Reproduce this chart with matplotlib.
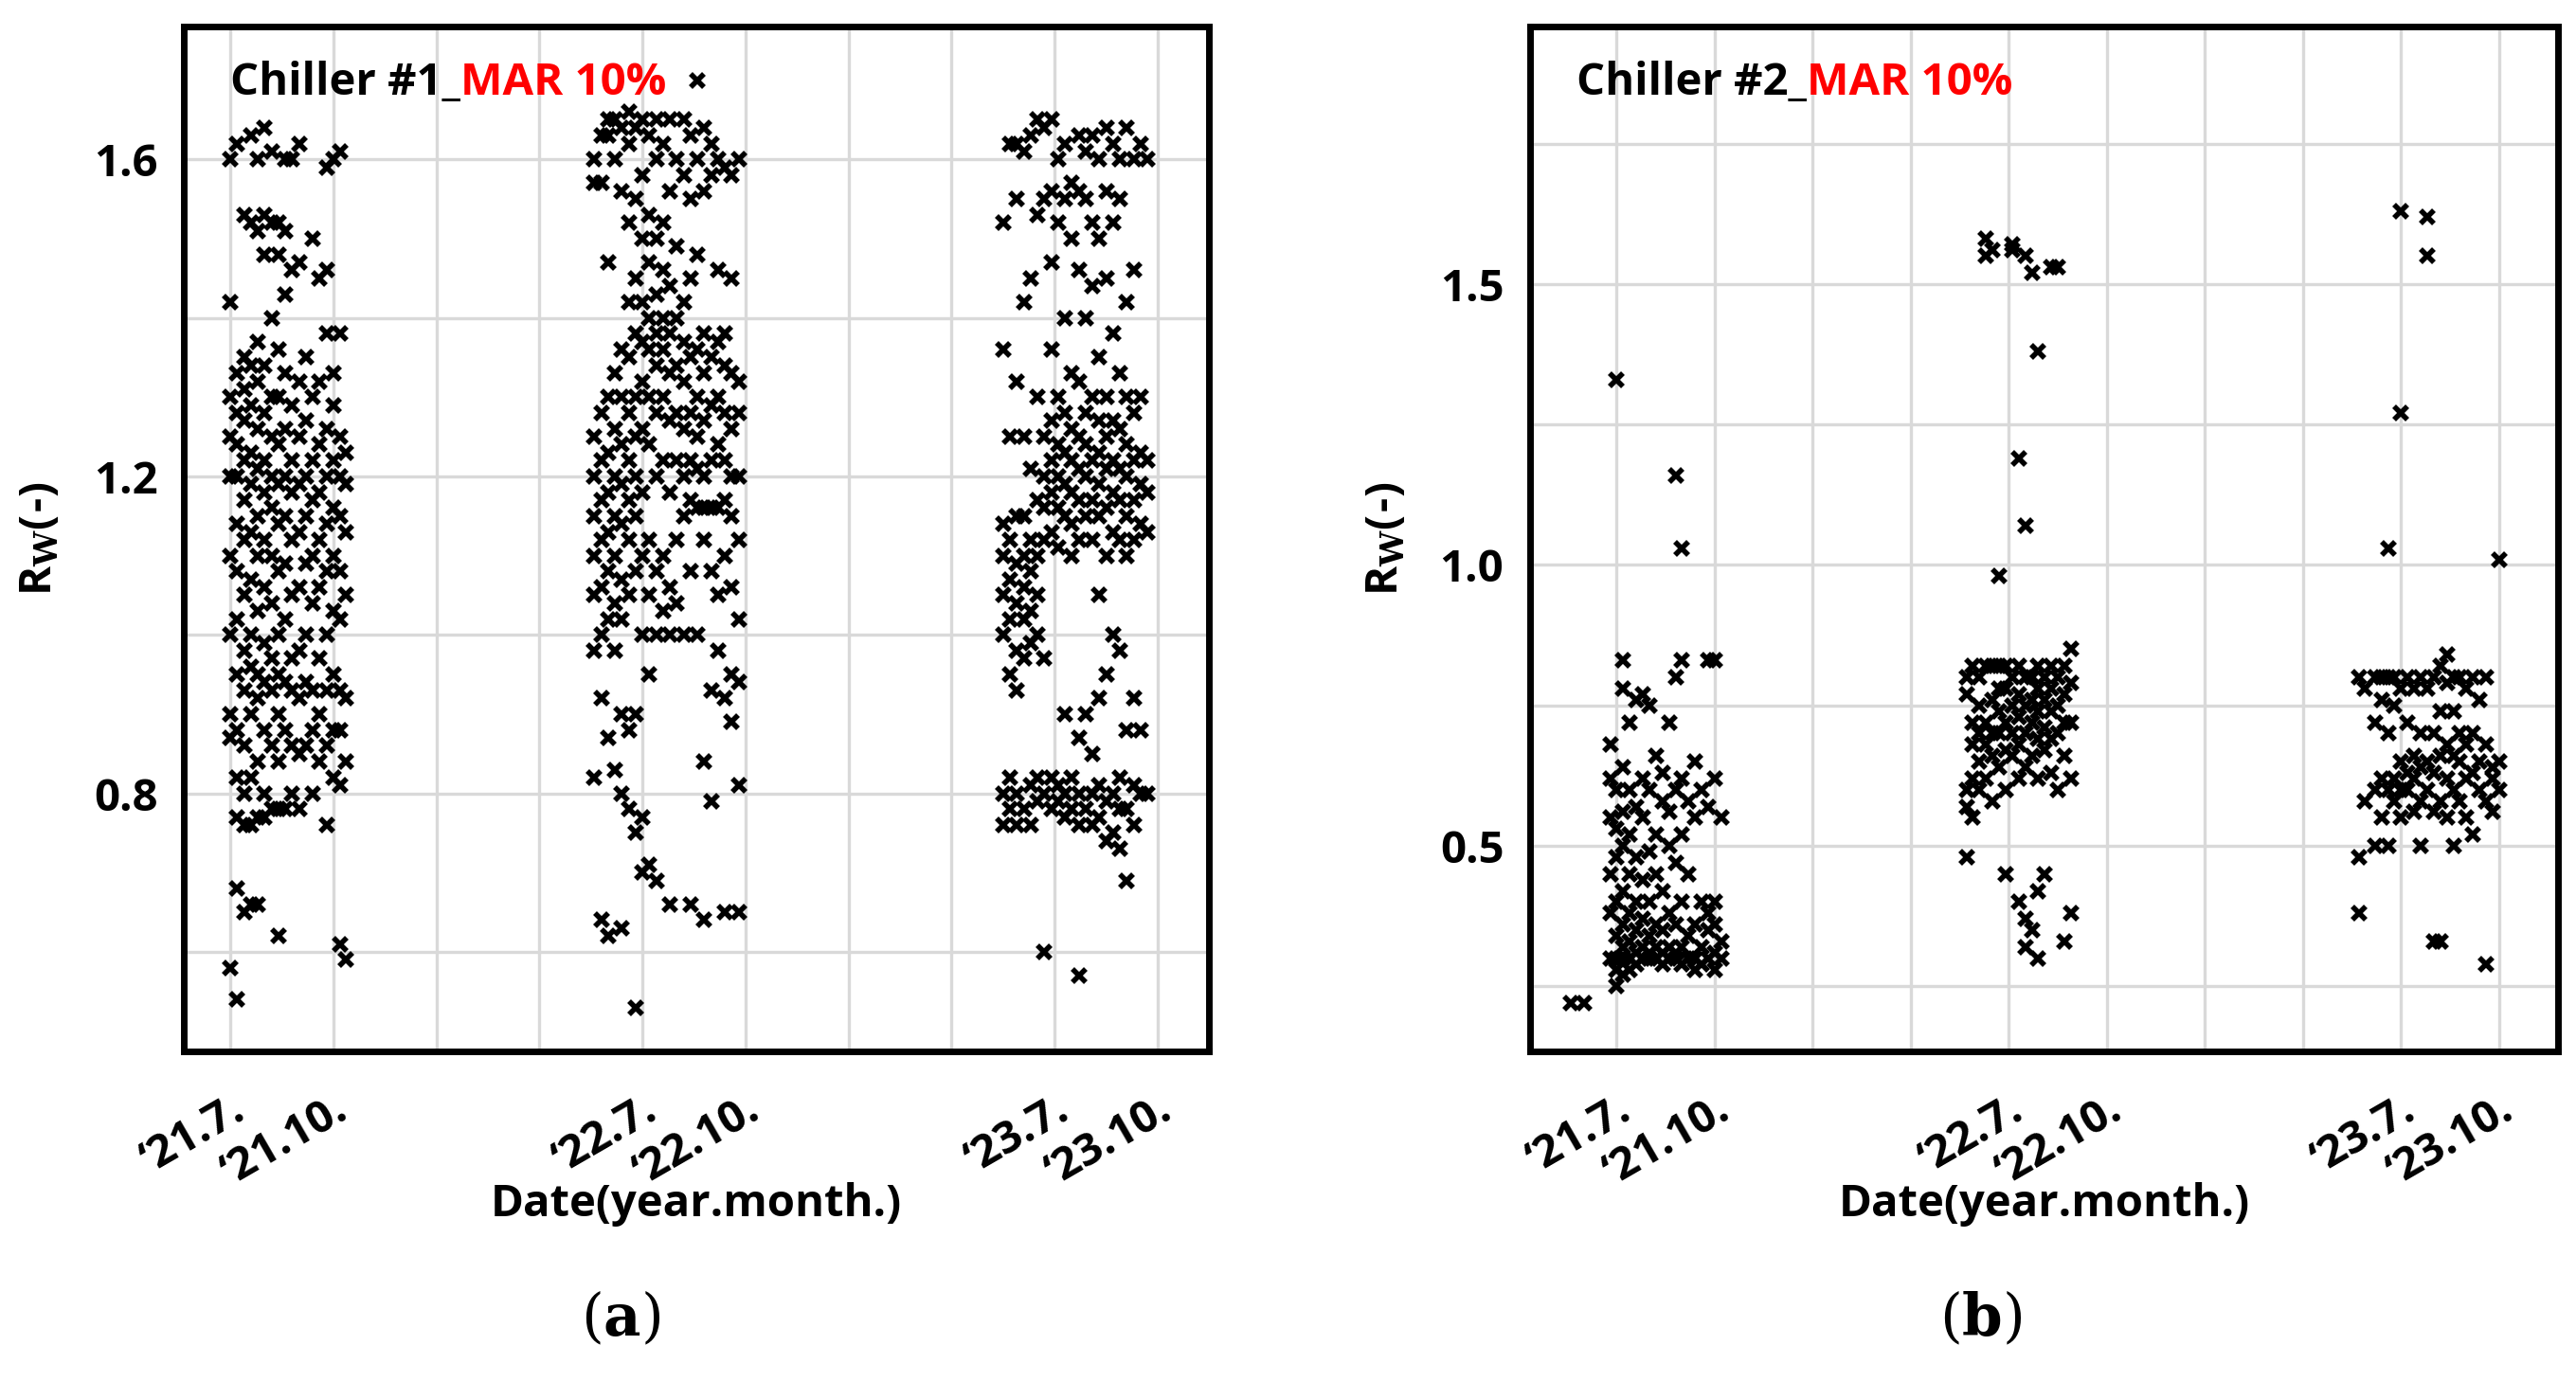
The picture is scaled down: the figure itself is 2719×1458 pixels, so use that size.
import matplotlib.pyplot as plt
import matplotlib as mpl

mpl.rcParams['font.family'] = 'Open Sans'
mpl.rcParams['font.weight'] = 'bold'

# x = months since Jan 2021 (6 = '21.7.)
tick_pos = [6, 9, 18, 21, 30, 33]
tick_labels = ['\u201821.7.', '\u201821.10.', '\u201822.7.', '\u201822.10.', '\u201823.7.', '\u201823.10.']

# Chiller #1 points, column x -> y values
a_2021 = {
    6.0: [0.58, 0.87, 0.9, 1.0, 1.1, 1.2, 1.25, 1.3, 1.42, 1.6],
    6.2: [0.54, 0.68, 0.77, 0.82, 0.88, 0.95, 1.02, 1.08, 1.14, 1.2, 1.24, 1.28, 1.33, 1.62],
    6.4: [0.65, 0.76, 0.8, 0.86, 0.93, 0.98, 1.05, 1.12, 1.17, 1.22, 1.27, 1.31, 1.35, 1.53],
    6.6: [0.66, 0.76, 0.82, 0.9, 0.96, 1.0, 1.07, 1.13, 1.19, 1.23, 1.29, 1.34, 1.52, 1.63],
    6.8: [0.66, 0.77, 0.84, 0.92, 0.95, 1.03, 1.1, 1.15, 1.21, 1.26, 1.32, 1.37, 1.51, 1.6],
    7.0: [0.77, 0.8, 0.88, 0.94, 0.99, 1.06, 1.12, 1.18, 1.22, 1.28, 1.34, 1.48, 1.53, 1.64],
    7.2: [0.78, 0.86, 0.93, 0.97, 1.04, 1.1, 1.16, 1.2, 1.25, 1.3, 1.4, 1.52, 1.61],
    7.4: [0.62, 0.78, 0.84, 0.9, 0.95, 1.0, 1.08, 1.14, 1.19, 1.24, 1.3, 1.36, 1.48, 1.52],
    7.6: [0.78, 0.88, 0.94, 1.02, 1.09, 1.15, 1.2, 1.26, 1.33, 1.43, 1.51, 1.6],
    7.8: [0.8, 0.86, 0.93, 0.97, 1.05, 1.12, 1.18, 1.22, 1.29, 1.46, 1.6],
    8.0: [0.78, 0.85, 0.92, 0.98, 1.06, 1.13, 1.19, 1.25, 1.32, 1.47, 1.62],
    8.2: [0.86, 0.94, 1.0, 1.09, 1.15, 1.2, 1.27, 1.35],
    8.4: [0.8, 0.88, 0.93, 1.04, 1.1, 1.17, 1.22, 1.3, 1.5],
    8.6: [0.84, 0.9, 0.97, 1.06, 1.12, 1.18, 1.24, 1.32, 1.45],
    8.8: [0.76, 0.86, 0.93, 1.0, 1.08, 1.14, 1.2, 1.26, 1.38, 1.46, 1.59],
    9.0: [0.82, 0.88, 0.95, 1.03, 1.1, 1.16, 1.22, 1.29, 1.33, 1.6],
    9.2: [0.61, 0.81, 0.88, 0.93, 1.02, 1.08, 1.15, 1.2, 1.25, 1.38, 1.61],
    9.35: [0.59, 0.84, 0.92, 1.05, 1.13, 1.19, 1.23],
}
a_2022 = {
    16.6: [0.82, 0.98, 1.05, 1.1, 1.15, 1.2, 1.25, 1.57, 1.6],
    16.8: [0.64, 0.92, 1.0, 1.06, 1.12, 1.17, 1.22, 1.28, 1.57, 1.63],
    17.0: [0.62, 0.87, 1.02, 1.08, 1.13, 1.18, 1.23, 1.3, 1.47, 1.63, 1.65],
    17.2: [0.83, 0.98, 1.04, 1.1, 1.15, 1.2, 1.26, 1.33, 1.6, 1.65],
    17.4: [0.63, 0.8, 0.9, 1.02, 1.07, 1.14, 1.19, 1.24, 1.3, 1.36, 1.56, 1.64],
    17.6: [0.78, 0.88, 1.05, 1.12, 1.17, 1.22, 1.28, 1.35, 1.42, 1.52, 1.62, 1.66],
    17.8: [0.53, 0.75, 0.9, 1.08, 1.15, 1.2, 1.25, 1.3, 1.38, 1.45, 1.55, 1.64],
    18.0: [0.7, 0.77, 1.0, 1.1, 1.18, 1.26, 1.32, 1.37, 1.42, 1.5, 1.58, 1.65],
    18.2: [0.71, 0.95, 1.05, 1.12, 1.24, 1.3, 1.36, 1.4, 1.47, 1.53, 1.63],
    18.4: [0.69, 1.0, 1.08, 1.2, 1.28, 1.34, 1.38, 1.43, 1.5, 1.6, 1.65],
    18.6: [1.03, 1.1, 1.22, 1.3, 1.36, 1.4, 1.46, 1.52, 1.62],
    18.8: [0.66, 1.0, 1.06, 1.18, 1.27, 1.33, 1.38, 1.44, 1.56, 1.65],
    19.0: [1.04, 1.12, 1.22, 1.28, 1.34, 1.4, 1.49, 1.6],
    19.2: [1.0, 1.15, 1.2, 1.26, 1.32, 1.37, 1.42, 1.58, 1.65],
    19.4: [0.66, 1.08, 1.17, 1.22, 1.28, 1.35, 1.45, 1.55, 1.63],
    19.6: [1.0, 1.16, 1.21, 1.25, 1.3, 1.36, 1.48, 1.6, 1.7],
    19.8: [0.64, 0.84, 1.12, 1.16, 1.2, 1.27, 1.33, 1.38, 1.56, 1.64],
    20.0: [0.79, 0.93, 1.08, 1.16, 1.22, 1.29, 1.35, 1.58, 1.62],
    20.2: [0.98, 1.05, 1.16, 1.24, 1.3, 1.37, 1.46, 1.6],
    20.4: [0.65, 0.92, 1.1, 1.17, 1.22, 1.28, 1.34, 1.38, 1.59],
    20.6: [0.89, 0.95, 1.06, 1.15, 1.2, 1.26, 1.33, 1.45, 1.58],
    20.8: [0.65, 0.81, 0.94, 1.02, 1.12, 1.2, 1.28, 1.32, 1.6],
}
a_2023 = {
    28.5: [0.76, 0.8, 1.0, 1.05, 1.1, 1.14, 1.36, 1.52],
    28.7: [0.78, 0.82, 0.95, 1.02, 1.07, 1.12, 1.25, 1.62],
    28.9: [0.76, 0.8, 0.93, 0.98, 1.04, 1.09, 1.15, 1.32, 1.55, 1.62],
    29.1: [0.78, 0.97, 1.02, 1.06, 1.1, 1.15, 1.25, 1.42, 1.61],
    29.3: [0.76, 0.81, 0.99, 1.03, 1.08, 1.12, 1.21, 1.45, 1.63],
    29.5: [0.79, 0.82, 1.0, 1.05, 1.1, 1.17, 1.3, 1.53, 1.65],
    29.7: [0.6, 0.8, 0.97, 1.12, 1.16, 1.2, 1.25, 1.55, 1.64],
    29.9: [0.78, 0.82, 1.13, 1.18, 1.22, 1.27, 1.36, 1.47, 1.56, 1.65],
    30.1: [0.79, 0.81, 1.11, 1.16, 1.2, 1.24, 1.3, 1.52, 1.6],
    30.3: [0.77, 0.8, 0.9, 1.15, 1.19, 1.23, 1.28, 1.4, 1.55, 1.62],
    30.5: [0.78, 0.82, 1.1, 1.14, 1.18, 1.22, 1.26, 1.33, 1.5, 1.57],
    30.7: [0.57, 0.76, 0.8, 0.87, 1.12, 1.17, 1.21, 1.25, 1.32, 1.46, 1.56, 1.63],
    30.9: [0.78, 0.9, 1.15, 1.2, 1.24, 1.28, 1.4, 1.55, 1.61],
    31.1: [0.76, 0.8, 0.85, 1.12, 1.17, 1.22, 1.3, 1.44, 1.52, 1.63],
    31.3: [0.77, 0.81, 0.92, 1.05, 1.15, 1.19, 1.23, 1.27, 1.35, 1.5, 1.6],
    31.5: [0.74, 0.79, 0.95, 1.1, 1.16, 1.21, 1.25, 1.3, 1.45, 1.56, 1.64],
    31.7: [0.75, 0.8, 1.0, 1.13, 1.18, 1.22, 1.27, 1.38, 1.52, 1.62],
    31.9: [0.73, 0.78, 0.82, 0.98, 1.12, 1.17, 1.21, 1.26, 1.33, 1.55, 1.6],
    32.1: [0.69, 0.78, 0.88, 1.1, 1.15, 1.2, 1.24, 1.3, 1.42, 1.64],
    32.3: [0.76, 0.81, 0.92, 1.12, 1.17, 1.22, 1.28, 1.46, 1.6],
    32.5: [0.8, 0.88, 1.14, 1.19, 1.23, 1.3, 1.62],
    32.7: [0.8, 1.13, 1.18, 1.22, 1.6],
}

# Chiller #2 points
b_2021 = {
    4.6: [0.22], 5.0: [0.22],
    5.8: [0.3, 0.38, 0.45, 0.55, 0.62, 0.68],
    6.0: [0.25, 0.28, 0.3, 0.34, 0.4, 0.48, 0.53, 0.6, 1.33],
    6.2: [0.27, 0.3, 0.32, 0.36, 0.42, 0.5, 0.56, 0.64, 0.78, 0.83],
    6.4: [0.28, 0.3, 0.33, 0.38, 0.45, 0.52, 0.6, 0.72],
    6.6: [0.29, 0.31, 0.35, 0.4, 0.48, 0.57, 0.76],
    6.8: [0.3, 0.32, 0.37, 0.44, 0.55, 0.62, 0.77],
    7.0: [0.3, 0.31, 0.34, 0.4, 0.49, 0.6, 0.75],
    7.2: [0.3, 0.32, 0.36, 0.45, 0.52, 0.66],
    7.4: [0.29, 0.31, 0.35, 0.42, 0.58, 0.63],
    7.6: [0.3, 0.32, 0.38, 0.5, 0.56, 0.72],
    7.8: [0.3, 0.31, 0.36, 0.47, 0.6, 0.8, 1.16],
    8.0: [0.29, 0.32, 0.4, 0.52, 0.62, 0.83, 1.03],
    8.2: [0.3, 0.34, 0.45, 0.58],
    8.4: [0.28, 0.3, 0.36, 0.55, 0.65],
    8.6: [0.29, 0.32, 0.4, 0.6],
    8.8: [0.3, 0.35, 0.38, 0.57, 0.83],
    9.0: [0.28, 0.31, 0.36, 0.4, 0.62, 0.83],
    9.2: [0.3, 0.33, 0.55],
}
b_2022 = {
    16.7: [0.48, 0.57, 0.6, 0.77, 0.8],
    16.9: [0.55, 0.62, 0.68, 0.72, 0.82],
    17.1: [0.6, 0.65, 0.7, 0.75, 0.8],
    17.3: [0.62, 0.68, 0.72, 0.82, 1.55, 1.58],
    17.5: [0.58, 0.66, 0.7, 0.76, 0.82, 1.56],
    17.7: [0.64, 0.7, 0.74, 0.78, 0.82, 0.98],
    17.9: [0.45, 0.6, 0.67, 0.72, 0.78, 0.82],
    18.1: [0.66, 0.7, 0.75, 0.8, 1.56, 1.57],
    18.3: [0.4, 0.62, 0.68, 0.73, 0.77, 0.82, 1.19],
    18.5: [0.32, 0.37, 0.64, 0.7, 0.75, 0.8, 1.07, 1.55],
    18.7: [0.35, 0.66, 0.72, 0.76, 0.8, 1.52],
    18.9: [0.3, 0.42, 0.62, 0.69, 0.74, 0.78, 0.82, 1.38],
    19.1: [0.45, 0.67, 0.71, 0.76, 0.8],
    19.3: [0.63, 0.69, 0.74, 0.78, 0.82, 1.53],
    19.5: [0.6, 0.7, 0.75, 0.8, 1.53],
    19.7: [0.33, 0.66, 0.72, 0.77, 0.82],
    19.9: [0.38, 0.62, 0.72, 0.79, 0.85],
}
b_2023 = {
    28.7: [0.38, 0.48, 0.8],
    28.9: [0.58, 0.78],
    29.2: [0.5, 0.6, 0.72, 0.8],
    29.4: [0.55, 0.62, 0.76, 0.8],
    29.6: [0.5, 0.6, 0.7, 0.8, 1.03],
    29.8: [0.58, 0.62, 0.75, 0.8],
    30.0: [0.55, 0.6, 0.65, 0.78, 1.27, 1.63],
    30.2: [0.6, 0.63, 0.72, 0.8],
    30.4: [0.56, 0.62, 0.66, 0.78],
    30.6: [0.5, 0.58, 0.64, 0.7, 0.8],
    30.8: [0.6, 0.65, 0.78, 1.55, 1.62],
    31.0: [0.33, 0.56, 0.63, 0.7, 0.8],
    31.2: [0.33, 0.58, 0.66, 0.74, 0.82],
    31.4: [0.55, 0.62, 0.68, 0.79, 0.84],
    31.6: [0.5, 0.6, 0.66, 0.74, 0.8],
    31.8: [0.58, 0.65, 0.7, 0.8],
    32.0: [0.55, 0.62, 0.68, 0.78],
    32.2: [0.52, 0.63, 0.7, 0.8],
    32.4: [0.6, 0.65, 0.76],
    32.6: [0.29, 0.58, 0.68, 0.8],
    32.8: [0.56, 0.62, 0.64],
    33.0: [0.6, 0.65, 1.01],
}


def flatten(*groups):
    xs, ys = [], []
    for g in groups:
        for x, vals in g.items():
            xs += [x] * len(vals)
            ys += vals
    return xs, ys


mpl.rcParams['mathtext.fontset'] = 'dejavuserif'
fig = plt.figure(figsize=(13.595, 7.29), dpi=200)

panels = [
    dict(rect=[0.0714, 0.239, 0.398, 0.742], data=(a_2021, a_2022, a_2023), name='Chiller #1_',
         xlim=(4.65, 34.5), ylim=(0.475, 1.768), yt=[0.8, 1.2, 1.6], ygrid=0.2, tag='a', tagx=0.241),
    dict(rect=[0.594, 0.239, 0.399, 0.742], data=(b_2021, b_2022, b_2023), name='Chiller #2_',
         xlim=(3.35, 34.8), ylim=(0.135, 1.959), yt=[0.5, 1.0, 1.5], ygrid=0.25, tag='b', tagx=0.769),
]

for p in panels:
    ax = fig.add_axes(p['rect'])
    xs, ys = flatten(*p['data'])
    ax.plot(xs, ys, 'x', color='black', markersize=5, markeredgewidth=2.0)
    ax.set_xticks(range(3, 36, 3), minor=True)
    ax.set_xticks(tick_pos)
    ax.set_xticklabels(tick_labels, rotation=30, ha='right', rotation_mode='anchor',
                       fontsize=17, fontweight='bold')
    g = p['ygrid']
    ax.set_yticks([round(g * i, 2) for i in range(1, 9)], minor=True)
    ax.set_yticks(p['yt'])
    ax.set_yticklabels([str(v) for v in p['yt']], fontsize=17, fontweight='bold')
    ax.set_xlim(*p['xlim'])
    ax.set_ylim(*p['ylim'])
    ax.grid(True, which='both', color='#d9d9d9', linewidth=1.2)
    ax.set_axisbelow(True)
    ax.tick_params(axis='y', which='both', length=0, pad=10)
    ax.tick_params(axis='x', which='both', length=0, pad=14)
    for s in ax.spines.values():
        s.set_linewidth(2.5)
    ax.set_xlabel('Date(year.month.)', fontsize=17, fontweight='bold', labelpad=-5)
    ax.set_ylabel('R$_\\mathbf{W}$(-)', fontsize=17, fontweight='bold', labelpad=12)
    t = ax.text(0.045, 0.945, p['name'], transform=ax.transAxes, fontsize=17,
                fontweight='bold', va='center')
    ax.annotate('MAR 10%', xycoords=t, xy=(1, 0.5), va='center', color='red',
                fontsize=17, fontweight='bold')
    fig.text(p['tagx'], 0.045, '($\\mathbf{%s}$)' % p['tag'], fontsize=22,
             family='DejaVu Serif', ha='center', va='center', fontweight='normal')

fig.savefig('out.png', dpi=200)
